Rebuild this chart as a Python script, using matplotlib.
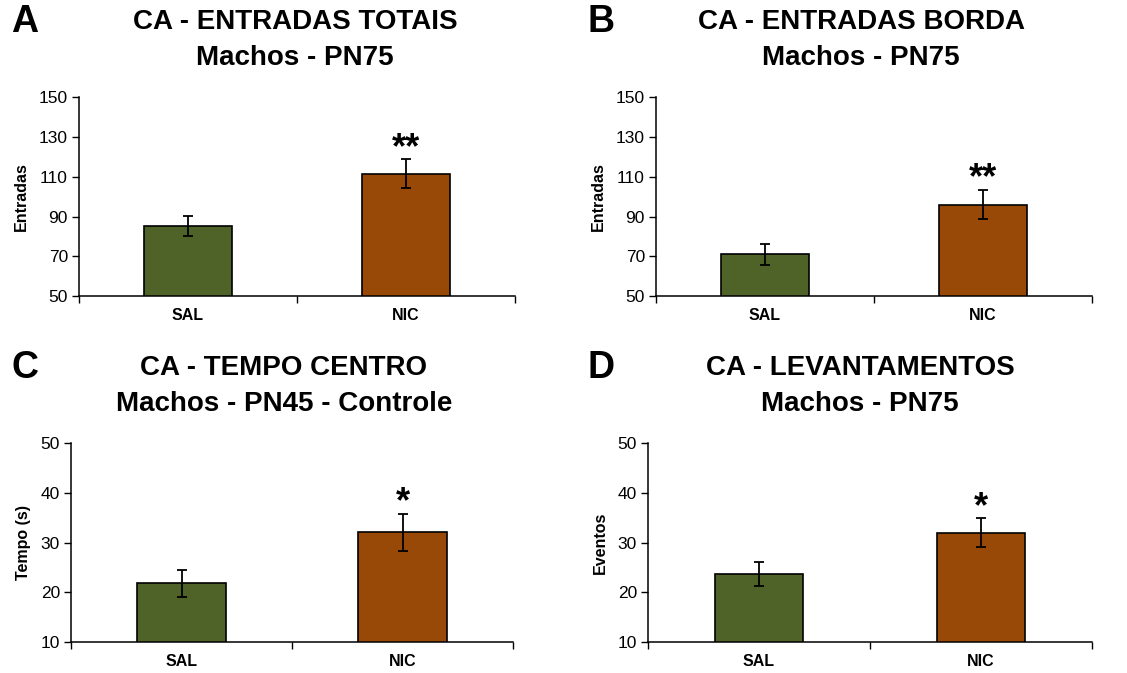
import matplotlib
matplotlib.use("Agg")
import matplotlib.pyplot as plt
import numpy as np

plt.rcParams['font.family'] = ['Liberation Sans', 'DejaVu Sans']

# Groups and colours
groups = ['SAL', 'NIC']
bar_colors = ['#4F6228', '#984807']

# Panel A - total entries
entradas_totais = [85.1, 111.5]
entradas_totais_err = [5.1, 7.2]

# Panel B - border entries
entradas_borda = [70.9, 96.0]
entradas_borda_err = [5.2, 7.3]

# Panel C - time in centre (s)
tempo_centro = [21.8, 32.1]
tempo_centro_err = [2.7, 3.7]

# Panel D - rearing events
levantamentos = [23.7, 32.0]
levantamentos_err = [2.35, 2.9]

panels = [
    dict(letter='A', title='CA - ENTRADAS TOTAIS\nMachos - PN75', ylabel='Entradas',
         values=entradas_totais, err=entradas_totais_err, sig='**',
         ylim=(50, 150), yticks=np.arange(50, 151, 20),
         rect=[79, 97.3, 515, 296], title_xy=(295, 40), letter_xy=(25, 22)),
    dict(letter='B', title='CA - ENTRADAS BORDA\nMachos - PN75', ylabel='Entradas',
         values=entradas_borda, err=entradas_borda_err, sig='**',
         ylim=(50, 150), yticks=np.arange(50, 151, 20),
         rect=[656, 97.3, 1092, 296], title_xy=(861, 40), letter_xy=(601, 22)),
    dict(letter='C', title='CA - TEMPO CENTRO\nMachos - PN45 - Controle', ylabel='Tempo (s)',
         values=tempo_centro, err=tempo_centro_err, sig='*',
         ylim=(10, 50), yticks=np.arange(10, 51, 10),
         rect=[71, 443.3, 513, 642], title_xy=(284, 386), letter_xy=(25, 368)),
    dict(letter='D', title='CA - LEVANTAMENTOS\nMachos - PN75', ylabel='Eventos',
         values=levantamentos, err=levantamentos_err, sig='*',
         ylim=(10, 50), yticks=np.arange(10, 51, 10),
         rect=[648, 443.3, 1092, 642], title_xy=(860, 386), letter_xy=(601, 368)),
]

W, H = 1127, 673
fig = plt.figure(figsize=(W / 100, H / 100), dpi=100)

for p in panels:
    x0, y0, x1, y1 = p['rect']
    ax = fig.add_axes([x0 / W, 1 - y1 / H, (x1 - x0) / W, (y1 - y0) / H])
    x = np.arange(len(groups))
    ax.bar(x, p['values'], width=0.4, color=bar_colors, edgecolor='black',
           linewidth=1.2, zorder=2)
    ax.errorbar(x, p['values'], yerr=p['err'], fmt='none', ecolor='black',
                elinewidth=1.3, capsize=3.5, capthick=1.3, zorder=3)

    ax.set_xlim(-0.5, 1.5)
    ax.set_ylim(*p['ylim'])
    ax.set_yticks(p['yticks'])
    ax.set_xticks(x)
    ax.set_xticklabels(groups, fontsize=11.5, fontweight='bold')
    ax.set_xticks([-0.5, 0.5, 1.5], minor=True)
    ax.tick_params(axis='x', which='major', length=0, pad=9)
    ax.tick_params(axis='x', which='minor', length=5, width=1, direction='out')
    ax.tick_params(axis='y', length=5, width=1, direction='out', labelsize=12.5, pad=3)
    ax.set_ylabel(p['ylabel'], fontsize=11.5, fontweight='bold', labelpad=7)

    for side in ['top', 'right']:
        ax.spines[side].set_visible(False)
    for side in ['left', 'bottom']:
        ax.spines[side].set_linewidth(1.1)

    # significance marker above the NIC error bar
    top = p['values'][1] + p['err'][1]
    ax.annotate(p['sig'], xy=(1, top), xytext=(0, 11), textcoords='offset pixels',
                ha='center', va='center', fontsize=26, fontweight='bold')

    tx, ty = p['title_xy']
    fig.text(tx / W, 1 - ty / H, p['title'], ha='center', va='center',
             fontsize=20, fontweight='bold', linespacing=1.47)
    lx, ly = p['letter_xy']
    fig.text(lx / W, 1 - ly / H, p['letter'], ha='center', va='center',
             fontsize=27, fontweight='bold')

fig.savefig('out.png', dpi=100, facecolor='white')
